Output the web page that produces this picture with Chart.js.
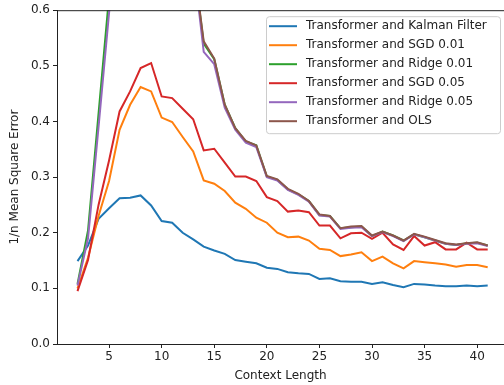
<!DOCTYPE html>
<html lang="en">
<head>
  <meta charset="UTF-8">
  <title>1/n Mean Square Error vs Context Length</title>
  <script src="https://cdn.jsdelivr.net/npm/chart.js"></script>
  <style>
    html, body {
      margin: 0;
      padding: 0;
      background: #fff;
      overflow: hidden;
    }
    #wrap {
      width: 504px;
      height: 385px;
      position: relative;
    }
  </style>
</head>
<body>

  <div id="wrap"><canvas id="chart"></canvas></div>

  <script>
    // context lengths (x)
    const contextLength = [2, 3, 4, 5, 6, 7, 8, 9, 10, 11, 12, 13, 14, 15, 16, 17, 18, 19, 20, 21,
                           22, 23, 24, 25, 26, 27, 28, 29, 30, 31, 32, 33, 34, 35, 36, 37, 38, 39, 40, 41];
    const xTickValues = [5, 10, 15, 20, 25, 30, 35, 40];

    // series values (values above 0.6 are off the top of the plot)
    const kalman = [0.149, 0.177, 0.225, 0.244, 0.262, 0.263, 0.267, 0.249, 0.221, 0.218,
                    0.200, 0.188, 0.175, 0.168, 0.162, 0.151, 0.148, 0.145, 0.137, 0.135,
                    0.129, 0.127, 0.126, 0.117, 0.118, 0.113, 0.112, 0.112, 0.108, 0.111,
                    0.106, 0.102, 0.108, 0.107, 0.105, 0.104, 0.104, 0.105, 0.104, 0.105];
    const sgd001 = [0.100, 0.155, 0.230, 0.293, 0.385, 0.430, 0.462, 0.454, 0.407, 0.399,
                    0.372, 0.346, 0.294, 0.288, 0.275, 0.254, 0.243, 0.227, 0.218, 0.200,
                    0.192, 0.193, 0.186, 0.171, 0.169, 0.158, 0.161, 0.165, 0.149, 0.157,
                    0.145, 0.136, 0.149, 0.147, 0.145, 0.143, 0.139, 0.142, 0.142, 0.138];
    const ridge001 = [0.108, 0.204, 0.414, 0.625, 0.850, 1.050, 1.200, 1.250, 1.200, 1.050,
                      0.900, 0.690, 0.540, 0.512, 0.430, 0.388, 0.364, 0.357, 0.301, 0.295,
                      0.278, 0.269, 0.257, 0.232, 0.230, 0.208, 0.210, 0.211, 0.194, 0.202,
                      0.195, 0.186, 0.197, 0.192, 0.186, 0.180, 0.178, 0.181, 0.182, 0.177];
    const sgd005 = [0.095, 0.151, 0.250, 0.330, 0.418, 0.454, 0.496, 0.505, 0.445, 0.442,
                    0.423, 0.404, 0.348, 0.351, 0.326, 0.301, 0.301, 0.293, 0.264, 0.257,
                    0.238, 0.240, 0.237, 0.213, 0.213, 0.190, 0.199, 0.200, 0.189, 0.200,
                    0.179, 0.169, 0.194, 0.177, 0.183, 0.170, 0.170, 0.182, 0.170, 0.170];
    const ridge005 = [0.105, 0.190, 0.390, 0.595, 0.820, 1.000, 1.150, 1.200, 1.150, 1.000,
                      0.860, 0.690, 0.525, 0.503, 0.425, 0.385, 0.362, 0.354, 0.300, 0.294,
                      0.277, 0.268, 0.256, 0.231, 0.229, 0.207, 0.209, 0.210, 0.194, 0.201,
                      0.194, 0.185, 0.197, 0.192, 0.186, 0.180, 0.178, 0.180, 0.181, 0.176];
    const ols = [1.500, 1.450, 1.400, 1.350, 1.300, 1.250, 1.200, 1.100, 1.000, 0.900,
                 0.800, 0.690, 0.544, 0.513, 0.430, 0.388, 0.365, 0.357, 0.302, 0.296,
                 0.279, 0.270, 0.257, 0.233, 0.230, 0.208, 0.211, 0.212, 0.195, 0.202,
                 0.195, 0.186, 0.198, 0.193, 0.187, 0.181, 0.179, 0.181, 0.183, 0.177];

    const seriesNames = ['Transformer and Kalman Filter', 'Transformer and SGD 0.01', 'Transformer and Ridge 0.01',
                         'Transformer and SGD 0.05', 'Transformer and Ridge 0.05', 'Transformer and OLS'];
    const seriesValues = [kalman, sgd001, ridge001, sgd005, ridge005, ols];
    const seriesColors = ['#1f77b4', '#ff7f0e', '#2ca02c', '#d62728', '#9467bd', '#8c564b'];

    const FONT = 'DejaVu Sans';
    const INK = '#222';

    // matplotlib-like boxed legend in the upper right + top spine
    const boxLegend = {
      id: 'boxLegend',
      afterDraw(chart) {
        const ctx = chart.ctx;
        const area = chart.chartArea;
        ctx.save();
        // top spine
        ctx.strokeStyle = INK;
        ctx.lineWidth = 1;
        ctx.beginPath();
        ctx.moveTo(area.left, area.top + 0.5);
        ctx.lineTo(area.right, area.top + 0.5);
        ctx.stroke();

        const x0 = 266.5, y0 = area.top + 6.5, w = 234, h = 117, r = 3;
        ctx.beginPath();
        ctx.moveTo(x0 + r, y0);
        ctx.arcTo(x0 + w, y0, x0 + w, y0 + h, r);
        ctx.arcTo(x0 + w, y0 + h, x0, y0 + h, r);
        ctx.arcTo(x0, y0 + h, x0, y0, r);
        ctx.arcTo(x0, y0, x0 + w, y0, r);
        ctx.closePath();
        ctx.fillStyle = 'rgba(255,255,255,0.8)';
        ctx.fill();
        ctx.strokeStyle = '#cccccc';
        ctx.stroke();

        ctx.font = '12px "' + FONT + '"';
        ctx.textBaseline = 'middle';
        ctx.textAlign = 'left';
        seriesNames.forEach((name, i) => {
          const cy = y0 + 9.5 + i * 19;
          ctx.strokeStyle = seriesColors[i];
          ctx.lineWidth = 2;
          ctx.beginPath();
          ctx.moveTo(269, cy);
          ctx.lineTo(297, cy);
          ctx.stroke();
          ctx.fillStyle = INK;
          ctx.fillText(name, 306, cy);
        });
        ctx.restore();
      }
    };

    const ctx = document.getElementById('chart').getContext('2d');
    new Chart(ctx, {
      type: 'line',
      data: {
        datasets: seriesNames.map((name, i) => ({
          label: name,
          data: contextLength.map((n, j) => ({ x: n, y: seriesValues[i][j] })),
          borderColor: seriesColors[i],
          backgroundColor: seriesColors[i],
          borderWidth: 2,
          pointRadius: 0,
          fill: false,
          tension: 0,
          order: seriesNames.length - 1 - i  // later series drawn on top, as in the original
        }))
      },
      options: {
        responsive: true,
        maintainAspectRatio: false,
        animation: false,
        layout: { padding: { top: 8, left: 0, right: 0, bottom: 0 } },
        plugins: {
          legend: { display: false },
          tooltip: { enabled: false }
        },
        scales: {
          x: {
            type: 'linear',
            min: 0.05,
            max: 42.55,
            afterBuildTicks(scale) {
              scale.ticks = xTickValues.map(v => ({ value: v }));
            },
            afterFit(scale) { scale.height = 41; },
            ticks: {
              font: { family: FONT, size: 12 },
              color: INK,
              padding: 2,
              maxRotation: 0
            },
            grid: {
              drawOnChartArea: false,
              drawTicks: true,
              tickLength: 4,
              tickColor: INK
            },
            border: { display: true, color: INK, width: 1 },
            title: {
              display: true,
              text: 'Context Length',
              font: { family: FONT, size: 12 },
              color: INK,
              padding: { top: 0, bottom: 2 }
            }
          },
          y: {
            min: 0,
            max: 0.6,
            afterFit(scale) { scale.width = 57; },
            ticks: {
              stepSize: 0.1,
              font: { family: FONT, size: 12 },
              color: INK,
              padding: 3,
              callback: v => v.toFixed(1)
            },
            grid: {
              drawOnChartArea: false,
              drawTicks: true,
              tickLength: 4,
              tickColor: INK
            },
            border: { display: true, color: INK, width: 1 },
            title: {
              display: true,
              text: '1/n Mean Square Error',
              font: { family: FONT, size: 12 },
              color: INK,
              padding: { top: 8, bottom: 0 }
            }
          }
        }
      },
      plugins: [boxLegend]
    });
  </script>

</body>
</html>
